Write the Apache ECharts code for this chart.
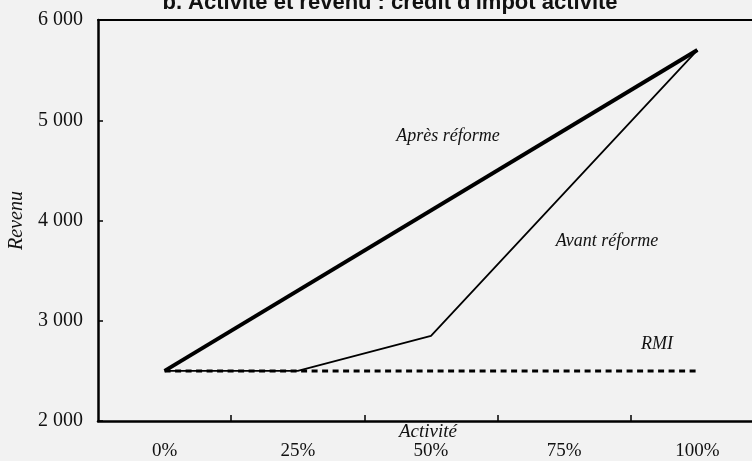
<!DOCTYPE html>
<html>
<head>
<meta charset="utf-8">
<script src="https://cdn.jsdelivr.net/npm/echarts@6/dist/echarts.min.js"></script>
<style>
  html, body { margin: 0; padding: 0; background: #f2f2f2; }
  #chart { width: 752px; height: 461px; }
</style>
</head>
<body>
<div id="chart"></div>
<script>
  // activité (%) -> revenu
  const apresX = [0, 100];
  const apresY = [2500, 5700];
  const avantX = [0, 25, 50, 100];
  const avantY = [2500, 2500, 2850, 5700];
  const rmiX = [0, 100];
  const rmiY = [2500, 2500];
  const xLabelValues = [0, 25, 50, 75, 100];
  const xTickValues = [12.5, 37.5, 62.5, 87.5, 112.5];

  const zip = (xs, ys) => xs.map((x, i) => [x, ys[i]]);
  const serif = "Liberation Serif";
  const note = (text, x, y, size) => ({
    type: "text",
    x: x,
    y: y,
    style: {
      text: text,
      font: "italic " + size + "px 'Liberation Serif'",
      fill: "#111",
      textAlign: "center",
      textVerticalAlign: "middle",
    },
  });

  const chart = echarts.init(document.getElementById("chart"));
  const option = {
    backgroundColor: "#f2f2f2",
    animation: false,
    title: {
      text: "b. Activité et revenu : crédit d'impôt activité",
      left: 385,
      textAlign: "center",
      top: -13,
      textStyle: { fontFamily: "Liberation Sans", fontWeight: "bold", fontSize: 22, color: "#111" },
    },
    grid: { left: 98, top: 20, width: 666, bottom: 40, outerBoundsMode: "none", containLabel: false },
    xAxis: [
      {
        type: "value",
        min: -12.5,
        max: 112.5,
        axisLine: { onZero: false, lineStyle: { color: "#000", width: 2.5 } },
        axisTick: { inside: true, length: 6, customValues: xTickValues, lineStyle: { color: "#000", width: 1.5 } },
        axisLabel: {
          customValues: xLabelValues,
          formatter: v => v + "%",
          margin: 21,
          fontFamily: serif,
          fontSize: 19,
          color: "#111",
        },
        splitLine: { show: false },
      },
      {
        type: "value",
        position: "top",
        min: -12.5,
        max: 112.5,
        axisLine: { show: true, onZero: false, lineStyle: { color: "#000", width: 2 } },
        axisTick: { show: false },
        axisLabel: { show: false },
        splitLine: { show: false },
      },
    ],
    yAxis: {
      type: "value",
      min: 2000,
      max: 6000,
      interval: 1000,
      name: "Revenu",
      nameLocation: "middle",
      nameGap: 69,
      nameTextStyle: { fontFamily: serif, fontStyle: "italic", fontSize: 20, color: "#111" },
      axisLine: { show: true, onZero: false, lineStyle: { color: "#000", width: 2.5 } },
      axisTick: { show: true, inside: true, length: 5, lineStyle: { color: "#000", width: 1.5 } },
      axisLabel: {
        formatter: v => String(v).replace(/\B(?=(\d{3})+(?!\d))/g, " "),
        margin: 15,
        fontFamily: serif,
        fontSize: 20,
        color: "#111",
      },
      splitLine: { show: false },
    },
    graphic: [
      note("Activité", 428, 432, 19),
      note("Après réforme", 448, 136, 18),
      note("Avant réforme", 607, 241, 18),
      note("RMI", 657, 344, 18),
    ],
    series: [
      {
        name: "Avant réforme",
        type: "line",
        data: zip(avantX, avantY),
        showSymbol: false,
        lineStyle: { color: "#000", width: 1.8 },
      },
      {
        name: "RMI",
        type: "line",
        data: zip(rmiX, rmiY),
        showSymbol: false,
        lineStyle: { color: "#000", width: 3, type: [6, 4.5] },
      },
      {
        name: "Après réforme",
        type: "line",
        data: zip(apresX, apresY),
        showSymbol: false,
        lineStyle: { color: "#000", width: 4 },
      },
    ],
  };
  chart.setOption(option);
</script>
</body>
</html>
